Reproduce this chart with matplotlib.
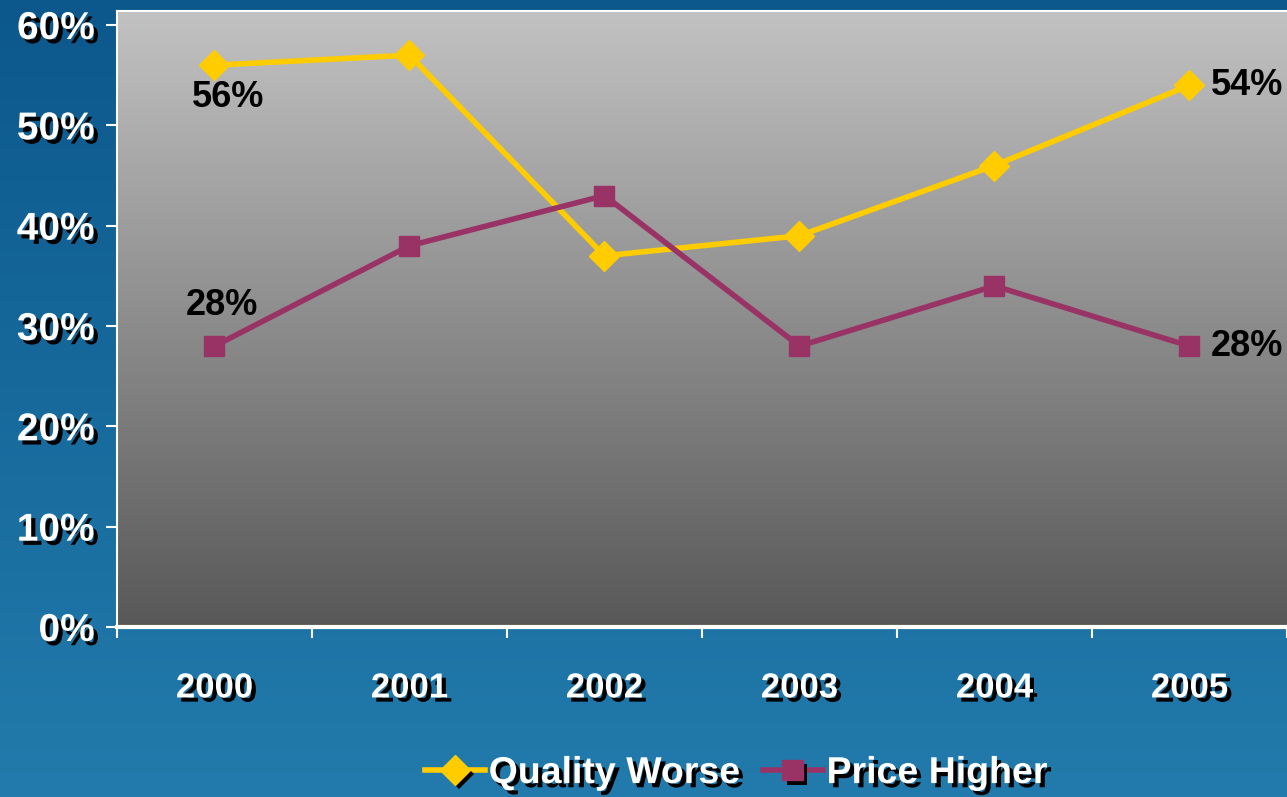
import numpy as np
import matplotlib
matplotlib.use('Agg')
import matplotlib.pyplot as plt
import matplotlib.patheffects as pe
from matplotlib import font_manager
from matplotlib.lines import Line2D

years = ['2000', '2001', '2002', '2003', '2004', '2005']
quality_worse = [0.56, 0.57, 0.37, 0.39, 0.46, 0.54]
price_higher = [0.28, 0.38, 0.43, 0.28, 0.34, 0.28]
yticks = [0, 0.1, 0.2, 0.3, 0.4, 0.5, 0.6]
ytick_labels = ['0%', '10%', '20%', '30%', '40%', '50%', '60%']

names = [f.name for f in font_manager.fontManager.ttflist]
font = 'Liberation Sans Narrow' if 'Liberation Sans Narrow' in names else 'Liberation Sans'
plt.rcParams['font.family'] = [font, 'DejaVu Sans']

shadow = [pe.SimplePatchShadow(offset=(3, -3), shadow_rgbFace='black', alpha=1), pe.Normal()]

fig = plt.figure(figsize=(12.87, 7.97), dpi=100)

# blue gradient background
bg = fig.add_axes([0, 0, 1, 1], zorder=-10)
top = np.array([12, 88, 140]) / 255
bot = np.array([34, 123, 172]) / 255
t = np.linspace(0, 1, 256)[:, None]
grad = top[None, :] * (1 - t) + bot[None, :] * t
bg.imshow(grad[:, None, :], aspect='auto', extent=[0, 1, 0, 1])
bg.axis('off')

ax = fig.add_axes([0.0909, 0.2133, 0.9091, 0.7729])
ymax = 0.614
gtop = np.array([194, 194, 194]) / 255
gbot = np.array([88, 88, 88]) / 255
g = gtop[None, :] * (1 - t) + gbot[None, :] * t
ax.imshow(g[:, None, :], aspect='auto', extent=[-0.5, 5.5, 0, ymax], zorder=0)

x = np.arange(len(years))
ax.plot(x, quality_worse, color='#FFCC00', lw=4, marker='D', ms=15, zorder=3)
ax.plot(x, price_higher, color='#993366', lw=4, marker='s', ms=15, zorder=3)

ax.set_xlim(-0.5, 5.5)
ax.set_ylim(0, ymax)

for s in ['left', 'top']:
    ax.spines[s].set_color('white')
    ax.spines[s].set_linewidth(1.5)
ax.spines['right'].set_visible(False)
ax.spines['bottom'].set_color('white')
ax.spines['bottom'].set_linewidth(3)
ax.spines['bottom'].set_path_effects(shadow)

ax.set_yticks(yticks)
ax.set_yticklabels(ytick_labels)
ax.set_xticks(x)
ax.set_xticklabels(years)
ax.set_xticks(np.arange(-0.5, 6.0, 1), minor=True)
ax.tick_params(axis='x', which='major', length=0, pad=32, labelsize=25, labelcolor='white')
ax.tick_params(axis='x', which='minor', length=8, width=1.5, color='white', direction='out')
ax.tick_params(axis='y', length=8, width=1.5, color='white', pad=8, labelsize=28, labelcolor='white')
for lab in ax.get_xticklabels() + ax.get_yticklabels():
    lab.set_fontweight('bold')
    lab.set_path_effects(shadow)
for tl in ax.yaxis.get_ticklines() + ax.xaxis.get_minorticklines():
    tl.set_path_effects(shadow)

lab_kw = dict(fontsize=26, color='black', fontweight='bold', zorder=4)
ax.text(x[0] + 0.07, quality_worse[0] - 0.032, '56%', ha='center', va='center', **lab_kw)
ax.text(x[0] + 0.04, price_higher[0] + 0.04, '28%', ha='center', va='center', **lab_kw)
ax.text(x[5] + 0.11, quality_worse[5], '54%', ha='left', va='center', **lab_kw)
ax.text(x[5] + 0.11, price_higher[5], '28%', ha='left', va='center', **lab_kw)

handles = [
    Line2D([], [], color='#FFCC00', lw=4, marker='D', ms=15, path_effects=shadow),
    Line2D([], [], color='#993366', lw=4, marker='s', ms=15, path_effects=shadow),
]
leg = fig.legend(handles, ['Quality Worse', 'Price Higher'], loc='center', bbox_to_anchor=(0.572, 0.03),
                 ncol=2, frameon=False, fontsize=27, handlelength=1.6, handletextpad=0.1, columnspacing=0.6)
for txt in leg.get_texts():
    txt.set_color('white')
    txt.set_fontweight('bold')
    txt.set_path_effects(shadow)

fig.savefig('out.png', dpi=100)
